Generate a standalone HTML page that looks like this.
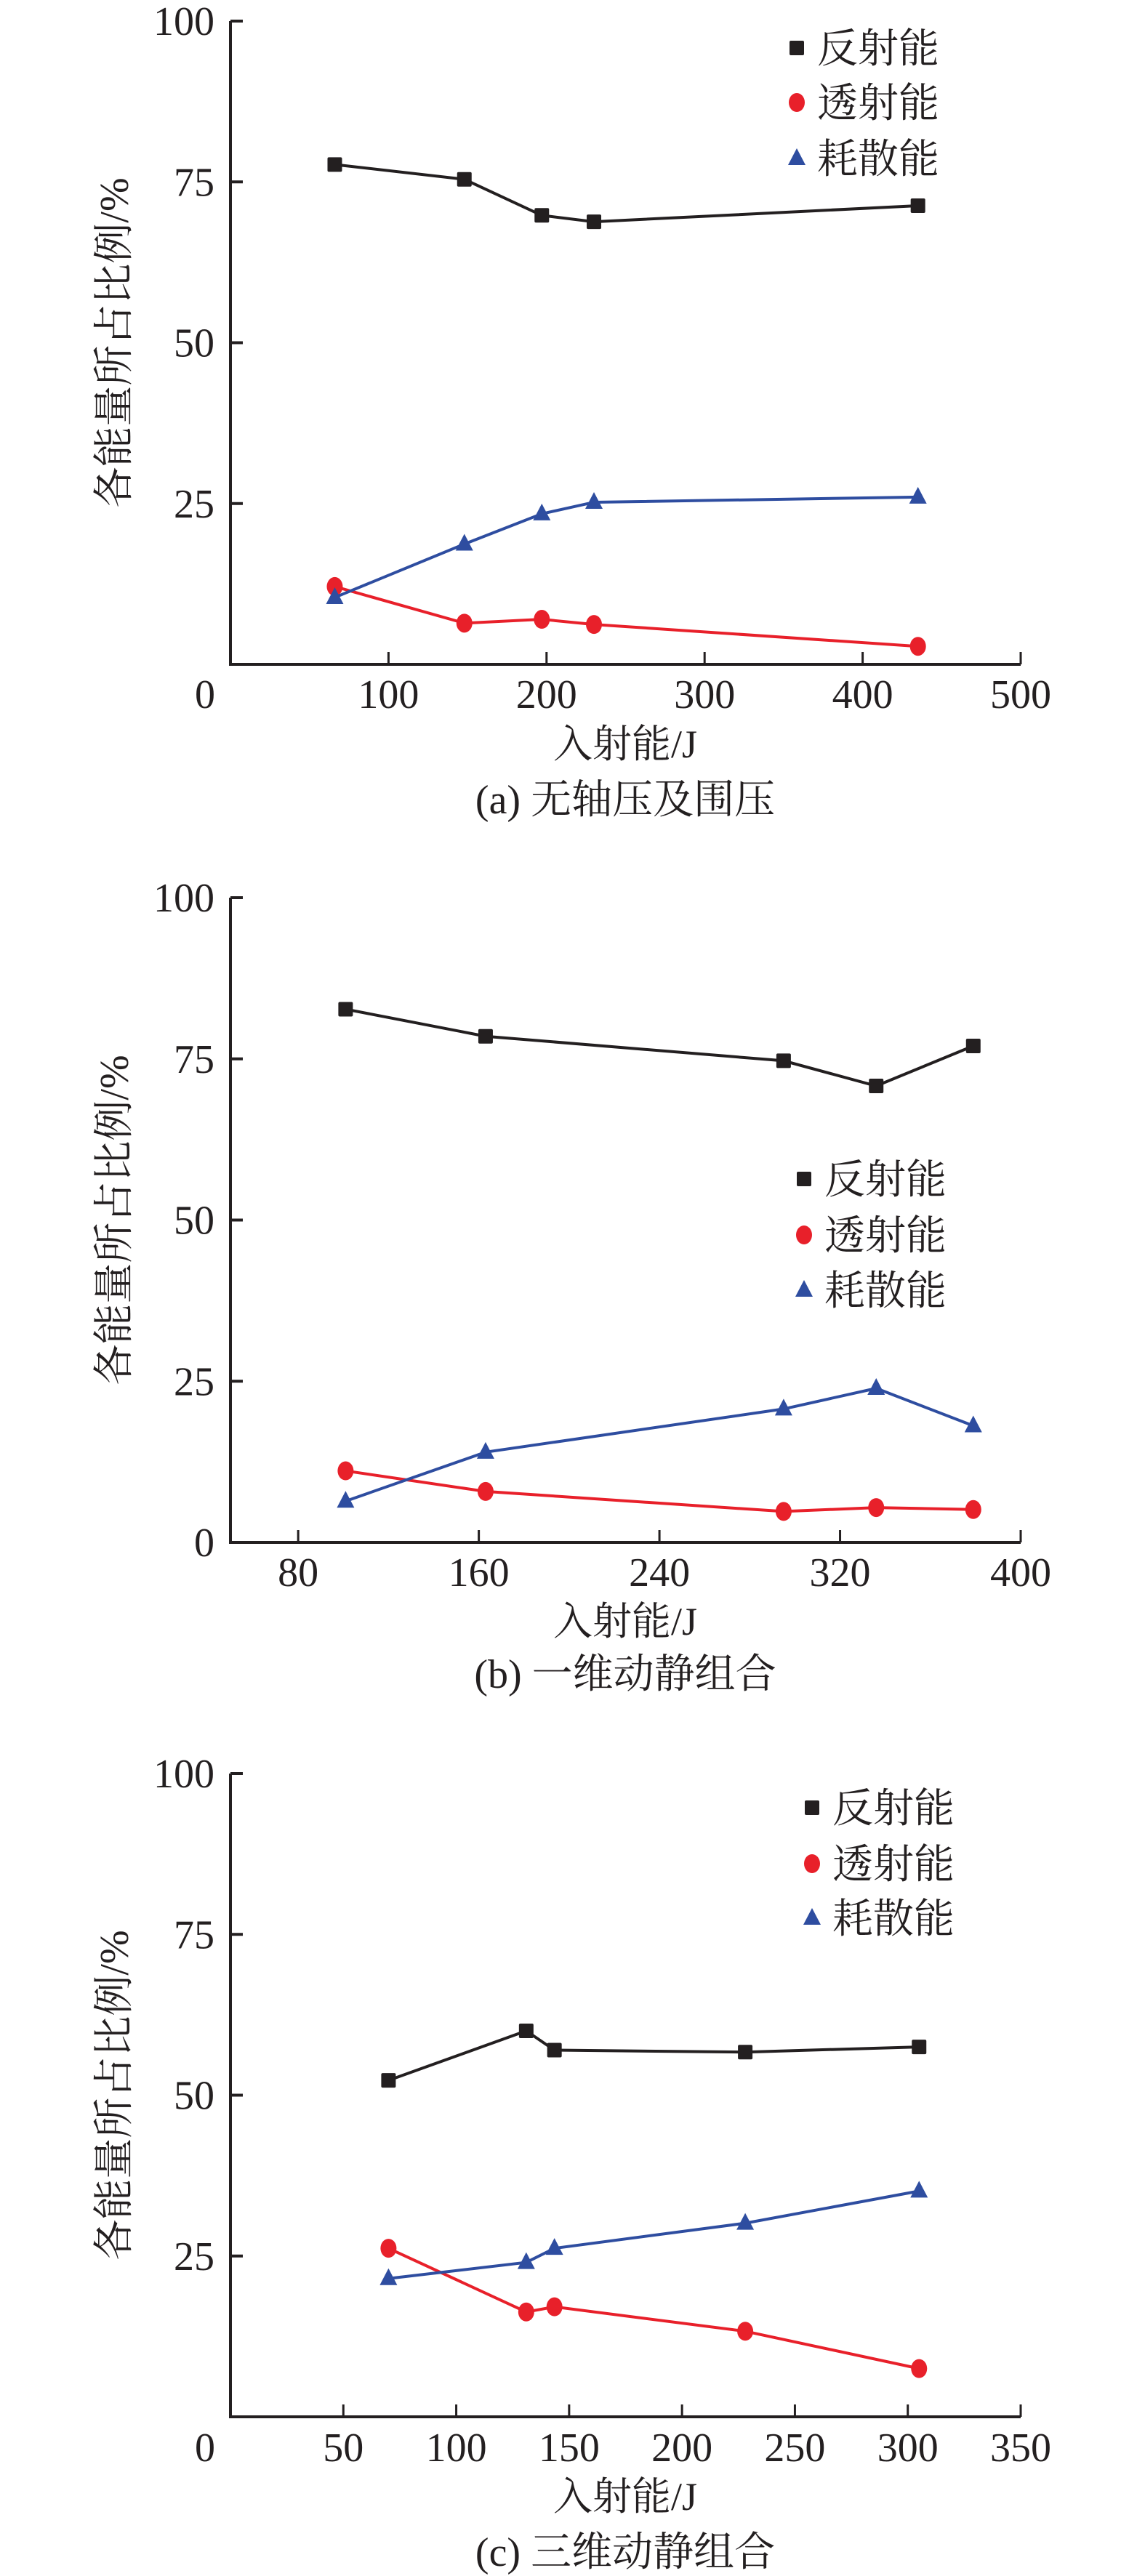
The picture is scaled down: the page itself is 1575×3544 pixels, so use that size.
<!DOCTYPE html>
<html><head><meta charset="utf-8">
<style>
html,body{margin:0;padding:0;background:#fff;}
svg{display:block;}
text{font-family:"Liberation Serif","Noto Serif CJK SC","Noto Serif CJK JP","Noto Sans CJK SC",serif;fill:#231f20;}
</style></head>
<body>
<svg id="chart" width="1575" height="3544" viewBox="0 0 1575 3544" xmlns="http://www.w3.org/2000/svg"></svg>
<script>
// ---- Panel (a) data ----
const aX = [66, 148, 197, 230, 435];
const aReflect = [77.7, 75.4, 69.8, 68.8, 71.3];
const aTransmit = [12.1, 6.4, 7.0, 6.2, 2.8];
const aDissip = [10.4, 18.7, 23.4, 25.2, 26.0];
const aXTicks = [0, 100, 200, 300, 400, 500];
// ---- Panel (b) data ----
const bX = [101, 163, 295, 336, 379];
const bReflect = [82.7, 78.5, 74.7, 70.8, 77.0];
const bTransmit = [11.1, 7.9, 4.8, 5.4, 5.1];
const bDissip = [6.4, 14.0, 20.7, 23.9, 18.1];
const bXTicks = [80, 160, 240, 320, 400];
// ---- Panel (c) data ----
const cX = [70, 131, 143.5, 228, 305];
const cReflect = [52.3, 60.0, 57.0, 56.7, 57.5];
const cTransmit = [26.2, 16.3, 17.1, 13.3, 7.5];
const cDissip = [21.5, 24.0, 26.2, 30.1, 35.1];
const cXTicks = [0, 50, 100, 150, 200, 250, 300, 350];
const yTicks = [0, 25, 50, 75, 100];
const legendLabels = ["反射能", "透射能", "耗散能"];
const captions = ["(a) 无轴压及围压", "(b) 一维动静组合", "(c) 三维动静组合"];

const NS = "http://www.w3.org/2000/svg";
const svg = document.getElementById("chart");
const BLACK = "#231f20", RED = "#e8202a", BLUE = "#2e4da0";

function mk(tag, attrs, parent) {
  const e = document.createElementNS(NS, tag);
  for (const k in attrs) e.setAttribute(k, attrs[k]);
  (parent || svg).appendChild(e);
  return e;
}

function marker(g, type, cx, cy, color) {
  let m;
  if (type === 0) {
    m = mk("rect", {x: cx - 10, y: cy - 10, width: 20, height: 20, rx: 2, fill: color}, g);
  } else if (type === 1) {
    m = mk("ellipse", {cx: cx, cy: cy, rx: 11, ry: 13, fill: color}, g);
  } else {
    m = mk("polygon", {points: (cx) + "," + (cy - 14) + " " + (cx - 12) + "," + (cy + 9) + " " + (cx + 12) + "," + (cy + 9), fill: color}, g);
  }
  return m;
}

function panel(cfg) {
  const g = mk("g", {});
  
  
  const L = 317, R = 1404, T = cfg.top, B = cfg.bottom;
  const sx = v => L + (v - cfg.xmin) / (cfg.xmax - cfg.xmin) * (R - L);
  const sy = v => B - v / 100 * (B - T);
  const ax = mk("path", {d: "M" + L + "," + (T) + " L" + L + "," + B + " L" + R + "," + B, stroke: BLACK, "stroke-width": 4, fill: "none"}, g);
  
  
  yTicks.forEach(v => {
    if (v > 0) mk("line", {x1: L, x2: L + 17, y1: sy(v), y2: sy(v), stroke: BLACK, "stroke-width": 4}, g);
    if (v === 0 && !cfg.yZeroLabel) return;
    const t = mk("text", {x: L - 22, y: sy(v) + 19, "text-anchor": "end", "font-size": 56}, g);
    t.textContent = v;
    
    
  });
  cfg.xTicks.forEach(v => {
    const x = sx(v);
    if (v !== cfg.xmin) mk("line", {x1: x, x2: x, y1: B, y2: B - 17, stroke: BLACK, "stroke-width": 3}, g);
    const lx = (v === cfg.xmin) ? x - 35 : x;
    const t = mk("text", {x: lx, y: cfg.xLabelY + 19, "text-anchor": "middle", "font-size": 56}, g);
    t.textContent = v;
    
    
  });
  const yc = (T + B) / 2;
  const yt = mk("text", {x: 0, y: 0, transform: "translate(176," + yc + ") rotate(-90)", "text-anchor": "middle", "font-size": 56}, g);
  yt.textContent = "各能量所占比例/%";
  
  
  const xt = mk("text", {x: 860, y: cfg.titleY + 19, "text-anchor": "middle", "font-size": 54}, g);
  xt.textContent = "入射能/J";
  
  
  const cap = mk("text", {x: 860, y: cfg.capY + 19, "text-anchor": "middle", "font-size": 56}, g);
  cap.textContent = cfg.caption;
  
  
  const series = [[cfg.reflect, BLACK, 'reflected-energy-series'], [cfg.transmit, RED, 'transmitted-energy-series'], [cfg.dissip, BLUE, 'dissipated-energy-series']];
  series.forEach((s, i) => {
    const sg = mk("g", {}, g);
    
    
    const pts = cfg.xs.map((x, j) => sx(x) + "," + sy(s[0][j])).join(" ");
    mk("polyline", {points: pts, stroke: s[1], "stroke-width": 4, fill: "none"}, sg);
    cfg.xs.forEach((x, j) => {
      const m = marker(sg, i, sx(x), sy(s[0][j]), s[1]);
      
      
    });
  });
  const lg = mk("g", {}, g);
  
  
  const colors = [BLACK, RED, BLUE];
  legendLabels.forEach((lab, i) => {
    const y = cfg.legY[i];
    marker(lg, i, cfg.legX, y, colors[i]);
    const t = mk("text", {x: cfg.legX + 28, y: y + 20, "font-size": 56}, lg);
    t.textContent = lab;
    
    
  });
}

panel({name: 'panel-a', top: 29, bottom: 914, xmin: 0, xmax: 500, xTicks: aXTicks, xs: aX,
  reflect: aReflect, transmit: aTransmit, dissip: aDissip, xLabelY: 955, titleY: 1023, capY: 1100,
  caption: captions[0], legX: 1096, legY: [66, 141, 218], yZeroLabel: false});
panel({name: 'panel-b', top: 1235, bottom: 2122, xmin: 50, xmax: 400, xTicks: bXTicks, xs: bX,
  reflect: bReflect, transmit: bTransmit, dissip: bDissip, xLabelY: 2163, titleY: 2230, capY: 2303,
  caption: captions[1], legX: 1106, legY: [1622, 1699, 1775], yZeroLabel: true});
panel({name: 'panel-c', top: 2440, bottom: 3325, xmin: 0, xmax: 350, xTicks: cXTicks, xs: cX,
  reflect: cReflect, transmit: cTransmit, dissip: cDissip, xLabelY: 3367, titleY: 3434, capY: 3511,
  caption: captions[2], legX: 1117, legY: [2487, 2564, 2639], yZeroLabel: false});
</script>
</body></html>
